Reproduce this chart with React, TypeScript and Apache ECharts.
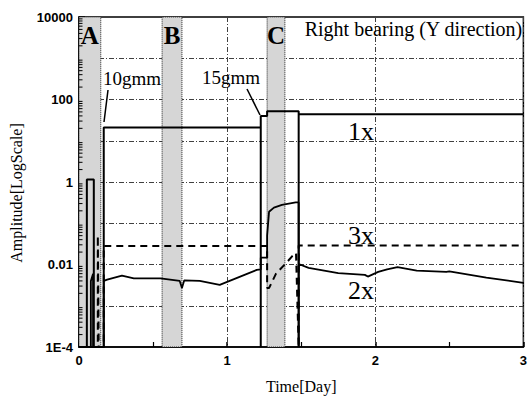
import React, { useEffect, useRef } from "react";
import * as echarts from "echarts";

// ---- data ----
const days1x = [0, 0.053, 0.053, 0.1, 0.1, 0.167, 0.167, 1.227, 1.227, 1.227, 1.27, 1.27, 1.483, 1.483, 1.483, 3.0];
const amp1x = [1e-4, 1e-4, 1.15, 1.15, 1e-4, 1e-4, 21, 21, 1e-4, 40, 40, 52, 52, 1e-4, 44, 44];

const days2x = [0, 0.08, 0.08, 0.095, 0.095, 0.167, 0.167, 0.19, 0.29, 0.37, 0.55, 0.68, 0.695, 0.71, 0.815, 0.95, 1.2, 1.227, 1.227, 1.27, 1.27, 1.283, 1.316, 1.37, 1.463, 1.483, 1.483, 1.483, 1.55, 1.75, 1.93, 1.95, 2.02, 2.08, 2.15, 2.28, 2.48, 2.5, 2.75, 3.0];
const amp2x = [1e-4, 1e-4, 0.004, 0.006, 1e-4, 1e-4, 0.004, 0.0043, 0.0054, 0.0046, 0.0046, 0.004, 0.0027, 0.0041, 0.004, 0.0032, 0.0074, 0.0076, 0.0146, 0.0146, 0.05, 0.19, 0.24, 0.28, 0.32, 0.32, 1e-4, 0.0103, 0.0083, 0.0062, 0.0056, 0.0051, 0.0066, 0.0076, 0.0086, 0.0071, 0.0066, 0.0068, 0.0048, 0.0036];

const days3x = [0, 0.127, 0.127, 0.133, 0.167, 0.167, 1.27, 1.27, 1.283, 1.33, 1.4, 1.44, 1.465, 1.483, 1.483, 3.0];
const amp3x = [1e-4, 1e-4, 0.05, 1e-4, 1e-4, 0.028, 0.028, 0.0027, 0.0027, 0.006, 0.011, 0.016, 0.019, 1e-4, 0.029, 0.029];

const bandNames = ["A", "B", "C"];
const bandStart = [0, 0.561, 1.27];
const bandEnd = [0.147, 0.695, 1.39];

const xTickLabels = ["0", "1", "2", "3"];
const yTickValues = [1e-4, 0.01, 1, 100, 10000];
const yTickLabels = ["1E-4", "0.01", "1", "100", "10000"];

const titleText = "Right bearing (Y direction)";
const xName = "Time[Day]";
const yName = "Amplitude[LogScale]";
const seriesNames = ["1x", "2x", "3x"];
const eventLabels = ["10gmm", "15gmm"];

export default function App() {
  const ref = useRef<HTMLDivElement>(null);
  useEffect(() => {
    const chart = echarts.init(ref.current!, null, { renderer: "svg" });
    const serif = "'Liberation Serif', 'Times New Roman', serif";
    const sans = "'Liberation Sans', Arial, sans-serif";
    const gridCol = "#404040";
    const dashDot = [5, 2, 1, 2];
    const pairs = (xs: number[], ys: number[]) => xs.map((x, i) => [x, ys[i]]);

    const yFmt = (v: number) => {
      for (let i = 0; i < yTickValues.length; i++) {
        if (Math.abs(Math.log10(v) - Math.log10(yTickValues[i])) < 1e-6) return yTickLabels[i];
      }
      return "";
    };
    const xFmt = (v: number) => {
      const i = Math.round(v);
      return Math.abs(v - i) < 1e-6 && xTickLabels[i] !== undefined ? xTickLabels[i] : "";
    };

    const baseGraphic: any[] = [
      { type: "text", x: 103, y: 69, z: 10, style: { text: eventLabels[0], font: `19px ${serif}`, fill: "#000" } },
      { type: "line", z: 10, shape: { x1: 108, y1: 90, x2: 104, y2: 122 }, style: { stroke: "#000", lineWidth: 1.5 } },
      { type: "text", x: 202, y: 68, z: 10, style: { text: eventLabels[1], font: `19px ${serif}`, fill: "#000" } },
      { type: "line", z: 10, shape: { x1: 247, y1: 89, x2: 260, y2: 115 }, style: { stroke: "#000", lineWidth: 1.5 } },
      { type: "text", x: 348, y: 118, z: 10, style: { text: seriesNames[0], font: `26px ${serif}`, fill: "#000" } },
      { type: "text", x: 348, y: 222, z: 10, style: { text: seriesNames[2], font: `26px ${serif}`, fill: "#000" } },
      { type: "text", x: 348, y: 277, z: 10, style: { text: seriesNames[1], font: `26px ${serif}`, fill: "#000" } },
    ];

    chart.setOption({
      animation: false,
      backgroundColor: "#fff",
      title: {
        text: titleText,
        right: 7,
        top: 19,
        padding: 0,
        textStyle: { fontFamily: serif, fontSize: 20, fontWeight: "normal", color: "#000" },
      },
      grid: {
        left: 78,
        right: 2,
        top: 17,
        bottom: 49,
        show: true,
        borderColor: "#000",
        borderWidth: 1.5,
      },
      xAxis: {
        type: "value",
        min: 0,
        max: 3,
        interval: 1,
        name: xName,
        nameLocation: "middle",
        nameGap: 31,
        nameTextStyle: { fontFamily: serif, fontSize: 16, color: "#000" },
        axisLine: { lineStyle: { color: "#000", width: 1.5 } },
        axisTick: { inside: true, length: 5, lineStyle: { color: "#000", width: 1.5 } },
        minorTick: { show: true, splitNumber: 2, length: 5, lineStyle: { color: "#000", width: 1.2 } },
        minorSplitLine: { show: false },
        axisLabel: { formatter: xFmt, fontFamily: sans, fontWeight: "bold", fontSize: 13, color: "#000", margin: 7 },
        splitLine: { show: true, lineStyle: { color: gridCol, width: 1, type: dashDot } },
      },
      yAxis: {
        type: "log",
        logBase: 10,
        min: 1e-4,
        max: 1e4,
        interval: 1,
        name: yName,
        nameLocation: "middle",
        nameGap: 55,
        nameRotate: 90,
        nameTextStyle: { fontFamily: serif, fontSize: 16, color: "#000", padding: [0, 22, 0, 0] },
        axisLine: { show: true, lineStyle: { color: "#000", width: 1.5 } },
        axisTick: { show: true, inside: true, length: 6, lineStyle: { color: "#000", width: 1.5 } },
        minorTick: { show: false },
        minorSplitLine: { show: false },
        axisLabel: { formatter: yFmt, fontFamily: sans, fontWeight: "bold", fontSize: 13, color: "#000", margin: 6 },
        splitLine: { show: true, lineStyle: { color: gridCol, width: 1, type: dashDot } },
      },
      series: [
        {
          name: "bands",
          type: "line",
          data: [],
          z: 1,
          markArea: {
            silent: true,
            itemStyle: { color: "#d6d6d6", borderColor: "#222", borderWidth: 1, borderType: "dotted" },
            label: {
              show: true,
              position: "insideTop",
              distance: 6,
              fontFamily: serif,
              fontWeight: "bold",
              fontSize: 25,
              color: "#000",
            },
            data: bandNames.map((n, i) => [
              { name: n, xAxis: bandStart[i] },
              { xAxis: bandEnd[i] },
            ]),
          },
        },
        {
          name: seriesNames[0],
          type: "line",
          z: 3,
          symbol: "none",
          data: pairs(days1x, amp1x),
          lineStyle: { color: "#000", width: 2 },
        },
        {
          name: seriesNames[1],
          type: "line",
          z: 3,
          symbol: "none",
          data: pairs(days2x, amp2x),
          lineStyle: { color: "#000", width: 1.8 },
        },
        {
          name: seriesNames[2],
          type: "line",
          z: 3,
          symbol: "none",
          data: pairs(days3x, amp3x),
          lineStyle: { color: "#000", width: 2, type: [7, 5] },
        },
      ],
      graphic: baseGraphic,
    });

    // log minor ticks on the left spine, placed through the axis scale
    const ticks: any[] = [];
    const x0 = chart.convertToPixel({ xAxisIndex: 0 }, 0) as number;
    for (let k = -4; k < 4; k++) {
      for (let m = 2; m <= 9; m++) {
        const y = chart.convertToPixel({ yAxisIndex: 0 }, m * Math.pow(10, k)) as number;
        ticks.push({
          type: "line",
          z: 5,
          silent: true,
          shape: { x1: x0, y1: y, x2: x0 + 3.5, y2: y },
          style: { stroke: "#000", lineWidth: 1 },
        });
      }
    }
    chart.setOption({ graphic: baseGraphic.concat(ticks) });

    return () => chart.dispose();
  }, []);
  return <div ref={ref} style={{ position: "fixed", left: 0, top: 0, width: 530, height: 399 }} />;
}
